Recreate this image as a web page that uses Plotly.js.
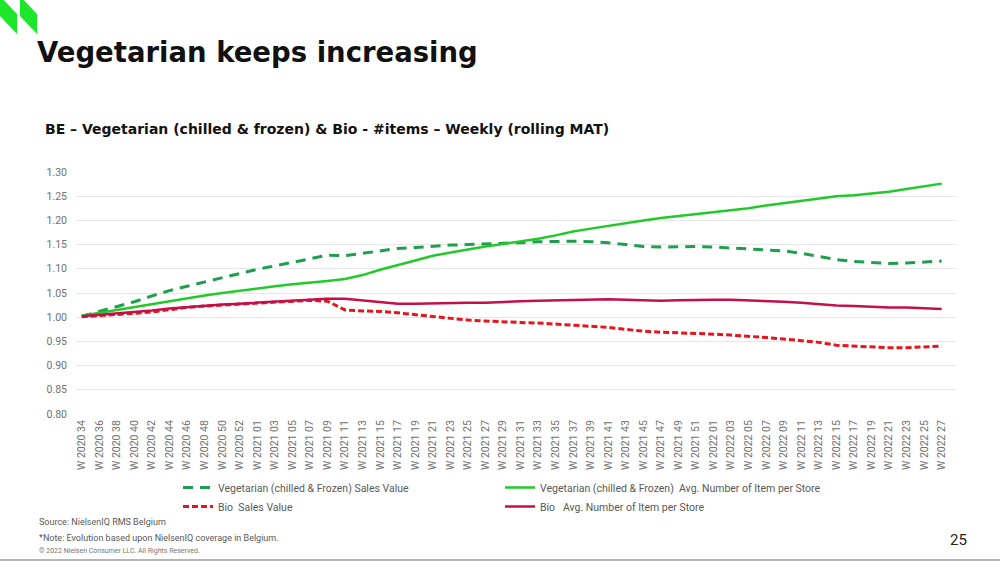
<!DOCTYPE html>
<html>
<head>
<meta charset="utf-8">
<script src="https://cdn.plot.ly/plotly-3.0.1.min.js"></script>
<style>
html,body{margin:0;padding:0;background:#fff;}
#chart{width:1000px;height:562px;}
</style>
</head>
<body>
<div id="chart"></div>
<script>
const weeks = [
 "W 2020 34","W 2020 36","W 2020 38","W 2020 40","W 2020 42","W 2020 44","W 2020 46","W 2020 48","W 2020 50","W 2020 52",
 "W 2021 01","W 2021 03","W 2021 05","W 2021 07","W 2021 09","W 2021 11","W 2021 13","W 2021 15","W 2021 17","W 2021 19",
 "W 2021 21","W 2021 23","W 2021 25","W 2021 27","W 2021 29","W 2021 31","W 2021 33","W 2021 35","W 2021 37","W 2021 39",
 "W 2021 41","W 2021 43","W 2021 45","W 2021 47","W 2021 49","W 2021 51",
 "W 2022 01","W 2022 03","W 2022 05","W 2022 07","W 2022 09","W 2022 11","W 2022 13","W 2022 15","W 2022 17","W 2022 19",
 "W 2022 21","W 2022 23","W 2022 25","W 2022 27"
];

const vegSalesValue = [
 1.002,1.012,1.022,1.032,1.044,1.055,1.064,1.073,1.081,1.090,
 1.099,1.106,1.113,1.120,1.128,1.127,1.132,1.138,1.142,1.144,
 1.147,1.149,1.150,1.151,1.152,1.154,1.156,1.157,1.157,1.156,
 1.154,1.150,1.146,1.145,1.146,1.146,1.145,1.143,1.142,1.140,
 1.137,1.132,1.126,1.119,1.115,1.113,1.111,1.112,1.114,1.116
];

const vegItemsPerStore = [
 1.003,1.009,1.015,1.021,1.028,1.034,1.040,1.045,1.050,1.055,
 1.060,1.064,1.068,1.071,1.075,1.079,1.087,1.098,1.107,1.117,
 1.127,1.134,1.140,1.146,1.151,1.156,1.162,1.169,1.177,1.183,
 1.189,1.194,1.200,1.205,1.209,1.214,1.218,1.222,1.225,1.231,
 1.236,1.241,1.246,1.250,1.252,1.255,1.259,1.265,1.270,1.276
];

const bioSalesValue = [
 1.001,1.003,1.005,1.008,1.011,1.016,1.020,1.023,1.025,1.027,
 1.029,1.031,1.033,1.035,1.033,1.015,1.013,1.012,1.009,1.005,
 1.001,0.997,0.994,0.992,0.990,0.989,0.988,0.986,0.984,0.981,
 0.979,0.975,0.971,0.969,0.968,0.967,0.965,0.963,0.961,0.958,
 0.955,0.952,0.948,0.942,0.940,0.938,0.937,0.937,0.938,0.940
];

const bioItemsPerStore = [
 1.002,1.005,1.007,1.010,1.014,1.018,1.021,1.024,1.026,1.028,
 1.030,1.032,1.034,1.036,1.038,1.038,1.035,1.032,1.028,1.028,
 1.029,1.030,1.030,1.030,1.032,1.033,1.034,1.035,1.036,1.037,
 1.037,1.036,1.035,1.034,1.035,1.036,1.036,1.036,1.035,1.034,
 1.032,1.030,1.027,1.024,1.023,1.021,1.020,1.020,1.019,1.017
];

const seriesNames = [
 "Vegetarian (chilled & Frozen) Sales Value",
 "Vegetarian (chilled & Frozen)  Avg. Number of Item per Store",
 "Bio  Sales Value",
 "Bio   Avg. Number of Item per Store"
];

const yTickVals = [0.80,0.85,0.90,0.95,1.00,1.05,1.10,1.15,1.20,1.25,1.30];

// plot area in pixels
const PL = 76, PR = 955, PT = 172, PB = 414;
const W = 1000, H = 562;
const px = x => (x - PL) / (PR - PL);
const py = y => (PB - y) / (PB - PT);

const traces = [
 {x: weeks, y: vegSalesValue, name: seriesNames[0], type: 'scatter', mode: 'lines',
  line: {color: '#1f9e4f', width: 3, dash: '10px,7px'}},
 {x: weeks, y: vegItemsPerStore, name: seriesNames[1], type: 'scatter', mode: 'lines',
  line: {color: '#22c92a', width: 2.5}},
 {x: weeks, y: bioSalesValue, name: seriesNames[2], type: 'scatter', mode: 'lines',
  line: {color: '#e8141c', width: 3, dash: '6px,3px'}},
 {x: weeks, y: bioItemsPerStore, name: seriesNames[3], type: 'scatter', mode: 'lines',
  line: {color: '#c50f4b', width: 2.5}}
];

const footFont = {family: 'Roboto, sans-serif', size: 9, color: '#595959'};

const layout = {
 width: W, height: H,
 margin: {l: PL, r: W - PR, t: PT, b: H - PB, pad: 0},
 paper_bgcolor: '#ffffff', plot_bgcolor: '#ffffff',
 showlegend: true,
 title: {
  text: '<b>Vegetarian keeps increasing</b>',
  font: {family: 'DejaVu Sans, sans-serif', size: 27.5, color: '#111111'},
  x: 37 / W, xanchor: 'left', xref: 'container',
  y: 1 - 52 / H, yanchor: 'middle', yref: 'container'
 },
 xaxis: {
  type: 'category',
  range: [-0.33, 49.76],
  showgrid: false, zeroline: false, showline: false,
  ticks: '', tickangle: -90, ticklabelstandoff: 3,
  tickfont: {family: 'Roboto, sans-serif', size: 10.5, color: '#707070'},
  automargin: false
 },
 yaxis: {
  range: [0.80, 1.30],
  tickvals: yTickVals, tickformat: '.2f',
  showgrid: true, gridcolor: '#e6e6e6', gridwidth: 1,
  zeroline: false, showline: false, ticks: '', ticklabelstandoff: 8,
  tickfont: {family: 'Roboto, sans-serif', size: 10.5, color: '#707070'},
  automargin: false
 },
 legend: {
  orientation: 'h',
  x: px(178), xanchor: 'left',
  y: py(473), yanchor: 'top',
  entrywidth: 277, entrywidthmode: 'pixels',
  font: {family: 'Roboto, sans-serif', size: 10.5, color: '#595959'},
  traceorder: 'normal', itemwidth: 30, tracegroupgap: 0,
  bgcolor: 'rgba(0,0,0,0)'
 },
 annotations: [
  {text: '<b>BE – Vegetarian (chilled & frozen) & Bio - #items – Weekly (rolling MAT)</b>',
   xref: 'paper', yref: 'paper', x: px(43), y: py(129), xanchor: 'left', yanchor: 'middle',
   showarrow: false, font: {family: 'DejaVu Sans, sans-serif', size: 14, color: '#111111'}},
  {text: 'Source: NielsenIQ RMS Belgium', xref: 'paper', yref: 'paper', x: px(37), y: py(522),
   xanchor: 'left', yanchor: 'middle', showarrow: false, font: footFont},
  {text: '*Note: Evolution based upon NielsenIQ coverage in Belgium.', xref: 'paper', yref: 'paper',
   x: px(37), y: py(538), xanchor: 'left', yanchor: 'middle', showarrow: false, font: footFont},
  {text: '© 2022 Nielsen Consumer LLC. All Rights Reserved.', xref: 'paper', yref: 'paper',
   x: px(37), y: py(551), xanchor: 'left', yanchor: 'middle', showarrow: false,
   font: {family: 'Roboto, sans-serif', size: 7, color: '#777777'}},
  {text: '25', xref: 'paper', yref: 'paper', x: px(958), y: py(540), xanchor: 'center', yanchor: 'middle',
   showarrow: false, font: {family: 'Roboto, sans-serif', size: 15, color: '#222222'}}
 ],
 shapes: [
  {type: 'path', xref: 'paper', yref: 'paper', line: {width: 0}, fillcolor: '#1ee62a',
   path: 'M ' + px(0) + ' ' + py(-4) + ' L ' + px(17) + ' ' + py(14) + ' L ' + px(17) + ' ' + py(34) +
         ' L ' + px(0) + ' ' + py(16) + ' Z'},
  {type: 'path', xref: 'paper', yref: 'paper', line: {width: 0}, fillcolor: '#1ee62a',
   path: 'M ' + px(20) + ' ' + py(-4) + ' L ' + px(37) + ' ' + py(14) + ' L ' + px(37) + ' ' + py(34) +
         ' L ' + px(20) + ' ' + py(16) + ' Z'},
  {type: 'line', xref: 'paper', yref: 'paper', x0: px(0), x1: px(1000), y0: py(560), y1: py(560),
   line: {color: '#b5b5b5', width: 2}}
 ]
};

Plotly.newPlot('chart', traces, layout, {displayModeBar: false, staticPlot: true});
</script>
</body>
</html>
